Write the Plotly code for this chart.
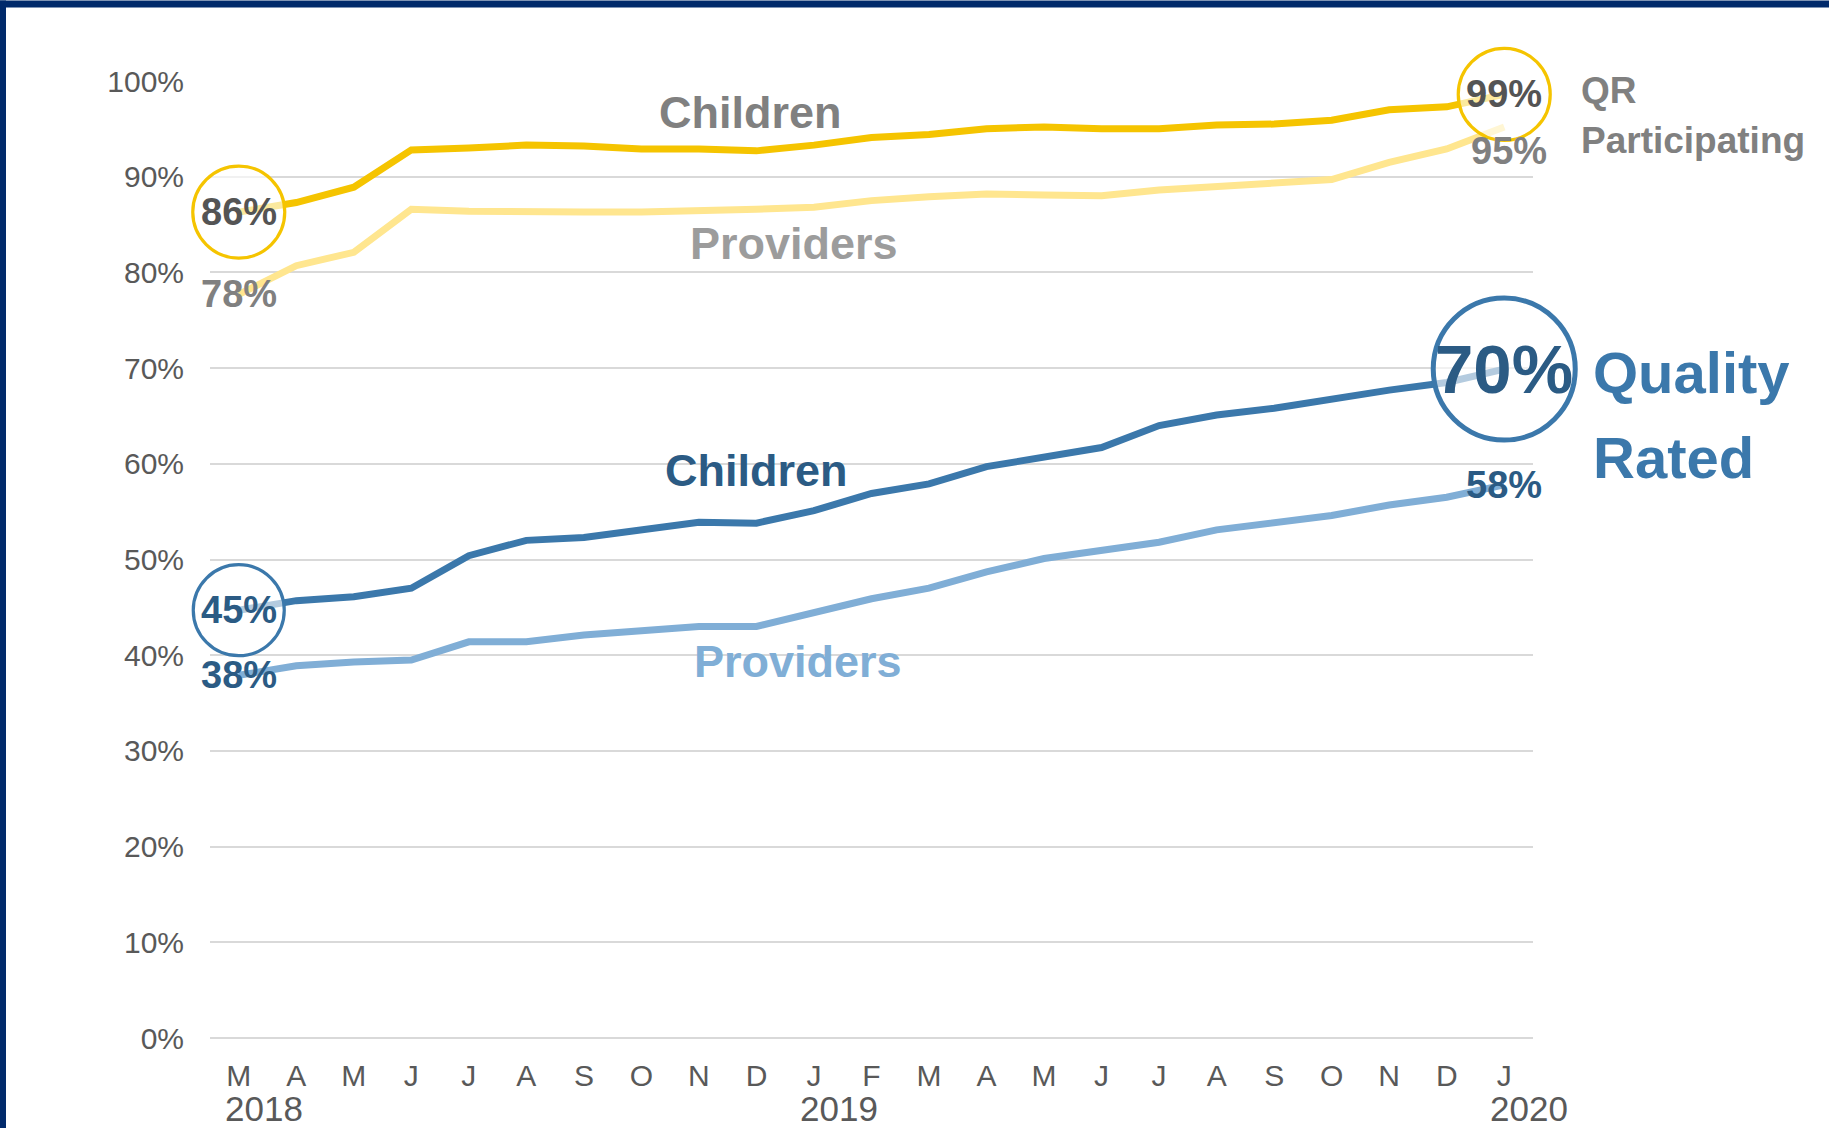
import plotly.graph_objects as go

# ---------------- data ----------------
months = ["Mar 2018", "Apr 2018", "May 2018", "Jun 2018", "Jul 2018", "Aug 2018",
          "Sep 2018", "Oct 2018", "Nov 2018", "Dec 2018", "Jan 2019", "Feb 2019",
          "Mar 2019", "Apr 2019", "May 2019", "Jun 2019", "Jul 2019", "Aug 2019",
          "Sep 2019", "Oct 2019", "Nov 2019", "Dec 2019", "Jan 2020"]
month_letters = ["M", "A", "M", "J", "J", "A", "S", "O", "N", "D", "J", "F",
                 "M", "A", "M", "J", "J", "A", "S", "O", "N", "D", "J"]
year_ticks = ["Mar 2018", "Jan 2019", "Jan 2020"]
year_labels = ["2018", "2019", "2020"]

qr_children = [86.3, 87.3, 88.9, 92.8, 93.0, 93.3, 93.2, 92.9, 92.9, 92.7, 93.3, 94.1,
               94.4, 95.0, 95.2, 95.0, 95.0, 95.4, 95.5, 95.9, 97.0, 97.3, 98.6]
qr_providers = [77.7, 80.7, 82.1, 86.6, 86.4, 86.3, 86.3, 86.3, 86.4, 86.6, 86.8, 87.5,
                87.9, 88.2, 88.1, 88.0, 88.6, 89.0, 89.3, 89.7, 91.5, 92.9, 95.2]
rated_children = [44.7, 45.7, 46.1, 47.0, 50.4, 52.0, 52.3, 53.1, 53.9, 53.8, 55.1, 56.9,
                  57.9, 59.7, 60.7, 61.7, 64.0, 65.1, 65.8, 66.8, 67.7, 68.5, 69.9]
rated_providers = [37.9, 38.9, 39.3, 39.5, 41.4, 41.4, 42.1, 42.5, 43.0, 43.0, 44.4, 45.9,
                   47.0, 48.7, 50.1, 51.0, 51.8, 53.1, 53.8, 54.6, 55.7, 56.5, 57.8]
y_ticks = [0, 10, 20, 30, 40, 50, 60, 70, 80, 90, 100]
y_ticktext = ["0%", "10%", "20%", "30%", "40%", "50%", "60%", "70%", "80%", "90%", "100%"]

# ---------------- style ----------------
YELLOW = "#F5C400"
LIGHT_YELLOW = "#FFE68F"
BLUE = "#3B78AB"
LIGHT_BLUE = "#80AED6"
DARK_BLUE_TXT = "#2B5B84"
DARK_GRAY = "#545454"
GRAY = "#808080"
LIGHT_GRAY = "#9C9C9C"
TICK_GRAY = "#595959"
NAVY = "#012A6B"
SANS = "Liberation Sans, Arial, sans-serif"

W, H = 1829, 1128
L, R, T, B = 210, 296, 80.5, 90
PW, PH = W - L - R, H - T - B

fig = go.Figure()

for vals, col in [(qr_providers, LIGHT_YELLOW), (qr_children, YELLOW),
                  (rated_providers, LIGHT_BLUE), (rated_children, BLUE)]:
    fig.add_trace(go.Scatter(x=months, y=vals, mode="lines",
                             line=dict(color=col, width=7), cliponaxis=False,
                             hoverinfo="skip"))

# highlight circles (translucent white fill) at first / last children points
circles = [
    (months[0], qr_children[0], YELLOW, 92, 3.2),
    (months[-1], qr_children[-1], YELLOW, 92, 3.2),
    (months[0], rated_children[0], BLUE, 91, 3.2),
    (months[-1], rated_children[-1], BLUE, 142, 5),
]
for x, y, col, size, lw in circles:
    fig.add_trace(go.Scatter(x=[x], y=[y], mode="markers", cliponaxis=False,
                             marker=dict(symbol="circle", size=size,
                                         color="rgba(255,255,255,0.62)",
                                         line=dict(color=col, width=lw)),
                             hoverinfo="skip"))

ann = []


def pct(v):
    return f"{round(v)}%"


# endpoint value labels
end_labels = [
    (0, qr_children[0], DARK_GRAY, 38, 0),
    (0, qr_providers[0], GRAY, 38, 0),
    (22, qr_children[-1], DARK_GRAY, 38, 0),
    (22.08, qr_providers[-1], GRAY, 38, -24),
    (0, rated_children[0], DARK_BLUE_TXT, 38, 0),
    (0, rated_providers[0], DARK_BLUE_TXT, 38, 0),
    (22, rated_children[-1], DARK_BLUE_TXT, 69, 0),
    (22, rated_providers[-1], DARK_BLUE_TXT, 38, 0),
]
for xi, v, col, fs, ys in end_labels:
    ann.append(dict(x=xi, y=v, xref="x", yref="y", text=pct(v), showarrow=False,
                    xanchor="center", yanchor="middle", yshift=ys,
                    font=dict(family=SANS, size=fs, color=col, weight="bold")))

# series name labels
series_names = [
    (8.9, 96.7, "Children", GRAY),
    (9.66, 83.0, "Providers", LIGHT_GRAY),
    (9.0, 59.3, "Children", DARK_BLUE_TXT),
    (9.73, 39.3, "Providers", LIGHT_BLUE),
]
for xi, yv, txt, col in series_names:
    ann.append(dict(x=xi, y=yv, xref="x", yref="y", text=txt, showarrow=False,
                    xanchor="center", yanchor="middle",
                    font=dict(family=SANS, size=45, color=col, weight="bold")))

# group labels on the right
group_labels = [
    ("QR", 99.06, 75, 37, GRAY),
    ("Participating", 93.8, 75, 37, GRAY),
    ("Quality", 69.55, 87, 58, BLUE),
    ("Rated", 60.7, 87, 58, BLUE),
]
for txt, yv, xs, fs, col in group_labels:
    ann.append(dict(x=22, y=yv, xref="x", yref="y", text=txt, showarrow=False,
                    xanchor="left", yanchor="middle", xshift=xs,
                    font=dict(family=SANS, size=fs, color=col, weight="bold")))

# year labels under the month letters
for m, yl in zip(year_ticks, year_labels):
    ann.append(dict(x=months.index(m), y=0, xref="x", yref="paper", text=yl,
                    showarrow=False, xanchor="left", yanchor="top",
                    xshift=-16, yshift=-49,
                    font=dict(family=SANS, size=35, color=TICK_GRAY)))

# navy frame (top and left edges of the slide)
shapes = [
    dict(type="rect", xref="paper", yref="paper", layer="above",
         x0=-L / PW, x1=1 + R / PW, y0=1 + (T - 7) / PH, y1=1 + T / PH,
         fillcolor=NAVY, line=dict(width=0)),
    dict(type="rect", xref="paper", yref="paper", layer="above",
         x0=-L / PW, x1=-(L - 6) / PW, y0=-B / PH, y1=1 + T / PH,
         fillcolor=NAVY, line=dict(width=0)),
]

fig.update_layout(
    width=W, height=H,
    margin=dict(l=L, r=R, t=T, b=B, pad=0),
    paper_bgcolor="white", plot_bgcolor="white",
    showlegend=False, hovermode=False,
    annotations=ann, shapes=shapes,
    xaxis=dict(type="category", categoryorder="array", categoryarray=months,
               range=[-0.5, len(months) - 0.5], tickmode="array",
               tickvals=months, ticktext=month_letters, showgrid=False,
               zeroline=False, showline=False, ticks="",
               ticklabelstandoff=17,
               tickfont=dict(family=SANS, size=30, color=TICK_GRAY)),
    yaxis=dict(range=[0, 100], tickmode="array", tickvals=y_ticks, ticktext=y_ticktext,
               showgrid=True, gridcolor="#D9D9D9", gridwidth=2,
               zeroline=True, zerolinecolor="#D9D9D9", zerolinewidth=2,
               showline=False, ticks="", ticklabelstandoff=25,
               tickfont=dict(family=SANS, size=30, color=TICK_GRAY)),
)

# remove the default 8px page margin so the figure sits at the window origin
fig.write_html("out.html",
               config={"displayModeBar": False, "staticPlot": True},
               post_script="document.body.style.margin='0px';"
                           "document.body.style.overflow='hidden';")
